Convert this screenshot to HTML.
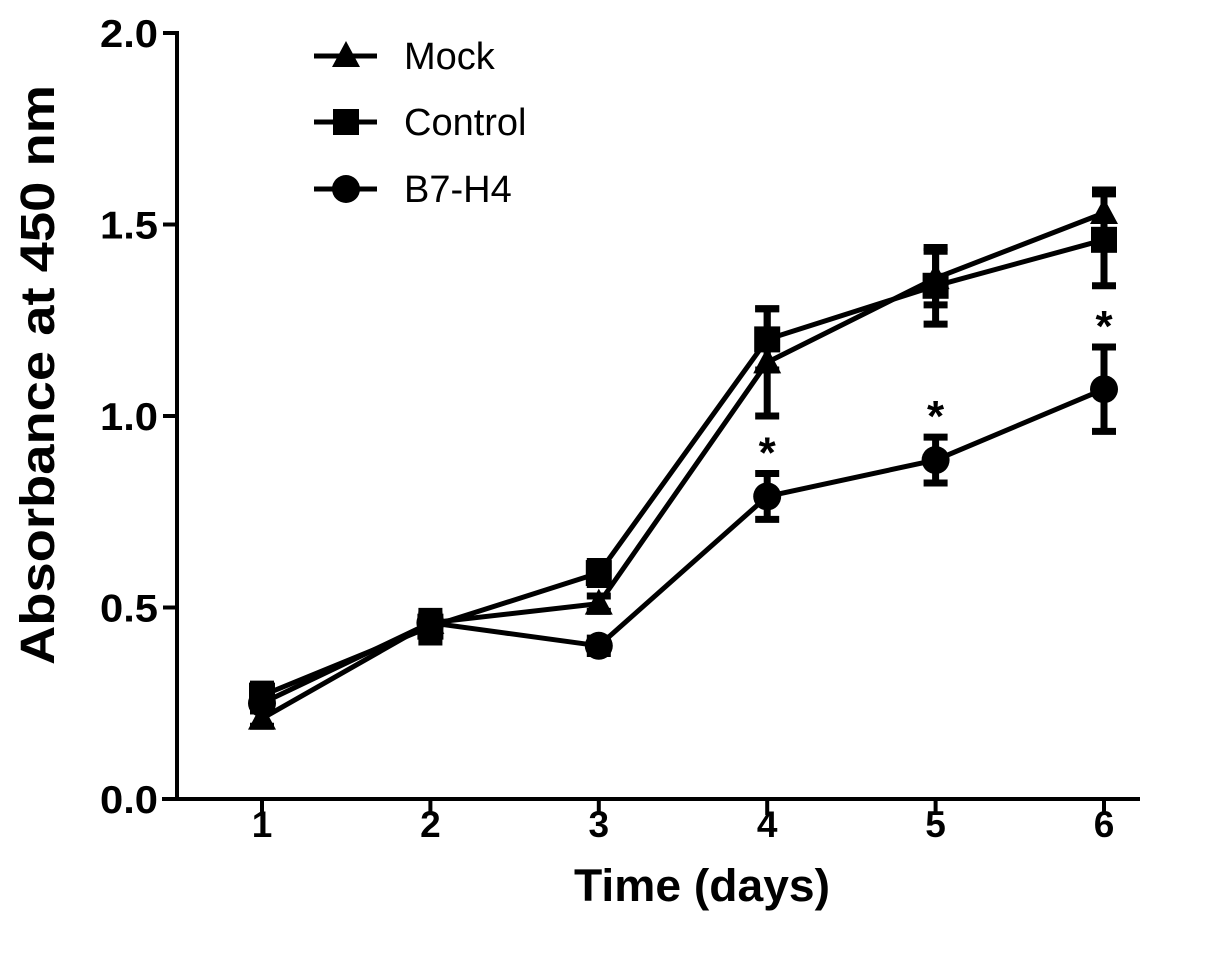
<!DOCTYPE html>
<html><head><meta charset="utf-8"><style>
html,body{margin:0;padding:0;background:#fff;}
svg{display:block;font-family:"Liberation Sans",Arial,sans-serif;}
</style></head><body>
<svg id="chart" width="1205" height="958" viewBox="0 0 1205 958" xmlns="http://www.w3.org/2000/svg">
<rect width="1205" height="958" fill="#fff"/>
<g id="axes"></g>
<g id="plot"></g>
<g id="legend"></g>
<text x="0" y="0" transform="translate(54,375) rotate(-90)" text-anchor="middle" font-size="48" font-weight="bold" textLength="580" lengthAdjust="spacingAndGlyphs">Absorbance at 450 nm</text>
<text x="702" y="901" text-anchor="middle" font-size="45" font-weight="bold" textLength="256" lengthAdjust="spacingAndGlyphs">Time (days)</text>
</svg>
<script>
const days = [1,2,3,4,5,6];
const yTicks = [0,0.5,1.0,1.5,2.0];
const yTickLabels = ["0.0","0.5","1.0","1.5","2.0"];
const mockVals = [0.21,0.46,0.51,1.14,1.36,1.53];
const mockErr = [0.02,0.02,0.02,0.14,0.07,0.06];
const controlVals = [0.27,0.45,0.59,1.20,1.34,1.46];
const controlErr = [0.03,0.04,0.03,0.08,0.10,0.12];
const b7Vals = [0.25,0.46,0.40,0.79,0.885,1.07];
const b7Err = [0.02,0.02,0.02,0.06,0.06,0.11];
const b7Stars = [false,false,false,true,true,true];

const NS="http://www.w3.org/2000/svg";
function X(d){return 262+(d-1)*168.4;}
function Y(v){return 799-v*383;}
function mk(tag,attrs,parent){const e=document.createElementNS(NS,tag);for(const k in attrs)e.setAttribute(k,attrs[k]);parent.appendChild(e);return e;}
const axes=document.getElementById('axes'),plot=document.getElementById('plot'),legend=document.getElementById('legend');

let yl=mk('line',{x1:177,y1:Y(2)-2,x2:177,y2:Y(0)+2,stroke:'#000','stroke-width':4},axes);


let xl=mk('line',{x1:162,y1:Y(0),x2:1140,y2:Y(0),stroke:'#000','stroke-width':4},axes);


yTicks.forEach((t,i)=>{
  let tk=mk('line',{x1:163,y1:Y(t),x2:177,y2:Y(t),stroke:'#000','stroke-width':4},axes);
  
  
  let tl=mk('text',{x:158,y:Y(t)+14,'text-anchor':'end','font-size':39,'font-weight':'bold',textLength:58,lengthAdjust:'spacingAndGlyphs'},axes);
  
  
  tl.textContent=yTickLabels[i];
});
days.forEach(d=>{
  let tk=mk('line',{x1:X(d),y1:Y(0),x2:X(d),y2:Y(0)+16,stroke:'#000','stroke-width':4},axes);
  
  
  let tl=mk('text',{x:X(d),y:Y(0)+38,'text-anchor':'middle','font-size':37,'font-weight':'bold'},axes);
  
  
  tl.textContent=String(d);
});

function marker(shape,cx,cy,parent){
  let e;
  if(shape==='tri') e=mk('polygon',{points:`${cx},${cy-15} ${cx-14},${cy+11} ${cx+14},${cy+11}`,fill:'#000'},parent);
  else if(shape==='sq') e=mk('rect',{x:cx-13,y:cy-13,width:26,height:26,fill:'#000'},parent);
  else e=mk('circle',{cx:cx,cy:cy,r:14,fill:'#000'},parent);
  return e;
}
function series(name,vals,err,shape){
  const g=mk('g',{},plot);
  
  
  let pl=mk('polyline',{points:vals.map((v,i)=>X(days[i])+','+Y(v)).join(' '),fill:'none',stroke:'#000','stroke-width':5},g);
  
  
  vals.forEach((v,i)=>{
    const x=X(days[i]);
    const eb=mk('path',{d:`M${x},${Y(v+err[i])}V${Y(v-err[i])}M${x-12},${Y(v+err[i])}H${x+12}M${x-12},${Y(v-err[i])}H${x+12}`,stroke:'#000','stroke-width':7,fill:'none'},g);
    
    
    const m=marker(shape,x,Y(v),g);
    
    
  });
}
series('mock',mockVals,mockErr,'tri');
series('control',controlVals,controlErr,'sq');
series('b7-h4',b7Vals,b7Err,'circ');
b7Vals.forEach((v,i)=>{
  if(!b7Stars[i])return;
  const s=mk('text',{x:X(days[i]),y:Y(v+b7Err[i])-6,'text-anchor':'middle','font-size':44,'font-weight':'bold'},plot);
  
  
  s.textContent='*';
});

const legendNames=['Mock','Control','B7-H4'];
const legendShapes=['tri','sq','circ'];
const legendY=[56,122,189];
legendNames.forEach((n,i)=>{
  const g=mk('g',{},legend);
  
  
  mk('line',{x1:314,y1:legendY[i],x2:377,y2:legendY[i],stroke:'#000','stroke-width':5},g);
  marker(legendShapes[i],346,legendY[i],g);
  const t=mk('text',{x:404,y:legendY[i]+13,'font-size':38},g);
  t.textContent=n;
});
</script>
</body></html>
